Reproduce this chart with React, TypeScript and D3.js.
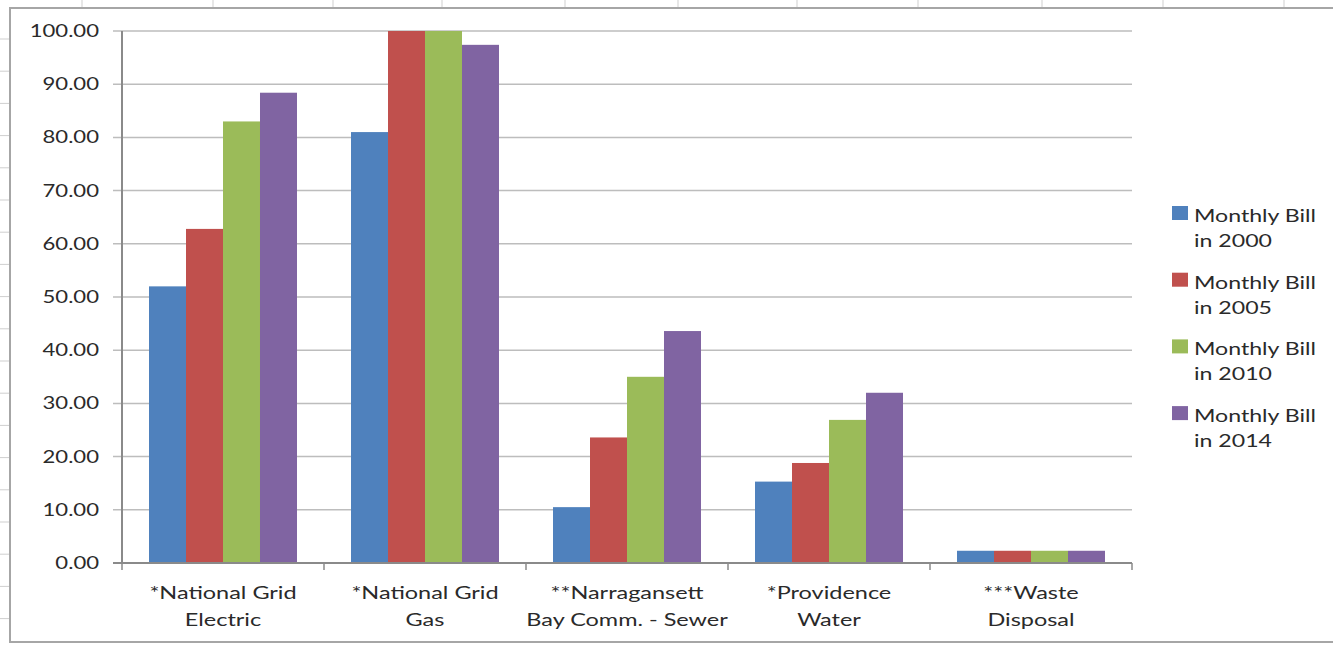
import { range, scaleBand, scaleLinear } from 'd3'

const WIDTH = 1333
const HEIGHT = 645

const categories = [
  ['*National Grid', 'Electric'],
  ['*National Grid', 'Gas'],
  ['**Narragansett', 'Bay Comm. - Sewer'],
  ['*Providence', 'Water'],
  ['***Waste', 'Disposal'],
]
const seriesNames = ['Monthly Bill in 2000', 'Monthly Bill in 2005', 'Monthly Bill in 2010', 'Monthly Bill in 2014']
const seriesColors = ['#4F81BD', '#C0504D', '#9BBB59', '#8064A2']

const bill2000 = [52.0, 81.0, 10.5, 15.3, 2.3]
const bill2005 = [62.8, 100.0, 23.6, 18.8, 2.3]
const bill2010 = [83.0, 100.0, 35.0, 26.9, 2.3]
const bill2014 = [88.4, 97.4, 43.6, 32.0, 2.3]
const seriesValues = [bill2000, bill2005, bill2010, bill2014]

const yTicks = [0, 10, 20, 30, 40, 50, 60, 70, 80, 90, 100]

// the spreadsheet behind the chart
const sheetColumns = [82, 213, 333, 442, 565, 678, 797, 918, 1042, 1163, 1284]
const sheetRows = range(39, HEIGHT, 32.2)

const PLOT = { left: 122, right: 1132, top: 31, bottom: 563 }
const FONT = 'Lato, "Open Sans", sans-serif'
const TEXT_COLOR = '#2a2a2a'

const Label = ({
  x,
  y,
  anchor,
  stretch = 1.3,
  children,
}: {
  x: number
  y: number
  anchor: string
  stretch?: number
  children: string
}) => (
  <g transform={`translate(${x},${y}) scale(${stretch},1)`}>
    <text textAnchor={anchor} fontFamily={FONT} fontSize={17} fill={TEXT_COLOR}>
      {children}
    </text>
  </g>
)

export default function App() {
  const x0 = scaleBand<number>()
    .domain(range(categories.length))
    .range([PLOT.left, PLOT.right])
  const x1 = scaleBand<number>()
    .domain(range(seriesNames.length))
    .range([0, x0.bandwidth()])
    .paddingOuter(0.73)
  const y = scaleLinear().domain([0, 100]).range([PLOT.bottom, PLOT.top])

  return (
    <svg
      width={WIDTH}
      height={HEIGHT}
      style={{ position: 'absolute', left: 0, top: 0, background: '#fff' }}
    >
      {sheetColumns.map((cx) => (
        <line key={`c${cx}`} x1={cx} x2={cx} y1={0} y2={8} stroke="#cfcfcf" />
      ))}
      {sheetRows.map((ry) => (
        <line key={`r${ry}`} x1={0} x2={9} y1={ry} y2={ry} stroke="#cfcfcf" />
      ))}
      <rect x={10} y={8} width={WIDTH + 20} height={634} fill="#fff" stroke="#a6a6a6" strokeWidth={2} />

      {yTicks.map((t) => (
        <line key={`g${t}`} x1={PLOT.left - 9} x2={PLOT.right} y1={y(t)} y2={y(t)} stroke="#bdbdbd" strokeWidth={1.5} />
      ))}

      {seriesValues.map((values, si) =>
        values.map((v, ci) => (
          <rect
            key={`${si}-${ci}`}
            x={x0(ci)! + x1(si)!}
            y={y(v)}
            width={x1.bandwidth()}
            height={y(0) - y(v)}
            fill={seriesColors[si]}
          />
        )),
      )}

      <line x1={PLOT.left} x2={PLOT.left} y1={PLOT.top} y2={PLOT.bottom} stroke="#8a8a8a" strokeWidth={2} />
      <line x1={PLOT.left - 9} x2={PLOT.right} y1={PLOT.bottom} y2={PLOT.bottom} stroke="#8a8a8a" strokeWidth={2} />
      {range(categories.length + 1).map((i) => {
        const tx = PLOT.left + i * x0.step()
        return <line key={`t${i}`} x1={tx} x2={tx} y1={PLOT.bottom} y2={PLOT.bottom + 7} stroke="#8a8a8a" strokeWidth={1.5} />
      })}

      {yTicks.map((t) => (
        <Label key={`y${t}`} x={99} y={y(t) + 6} anchor="end">
          {t.toFixed(2)}
        </Label>
      ))}

      {categories.map((lines, ci) =>
        lines.map((line, li) => (
          <Label
            key={`x${ci}-${li}`}
            x={x0(ci)! + x0.bandwidth() / 2}
            y={599 + li * 27}
            anchor="middle"
            stretch={1.38}
          >
            {line}
          </Label>
        )),
      )}

      {seriesNames.map((name, si) => {
        const top = 206 + si * 66.7
        const words = name.split(' ')
        return (
          <g key={`l${si}`}>
            <rect x={1172} y={top} width={16} height={14} fill={seriesColors[si]} />
            <Label x={1194} y={top + 16} anchor="start" stretch={1.36}>
              {words.slice(0, 2).join(' ')}
            </Label>
            <Label x={1194} y={top + 41} anchor="start" stretch={1.36}>
              {words.slice(2).join(' ')}
            </Label>
          </g>
        )
      })}
    </svg>
  )
}
